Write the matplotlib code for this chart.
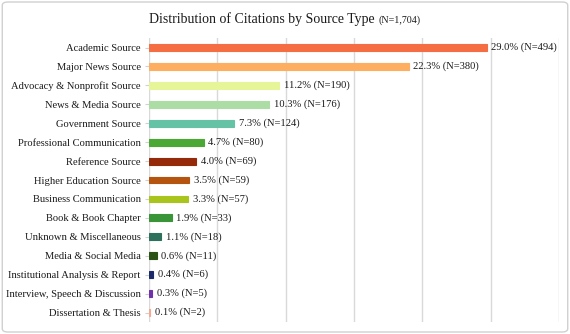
import matplotlib.pyplot as plt
from matplotlib.patches import FancyBboxPatch

categories = ["Academic Source", "Major News Source", "Advocacy & Nonprofit Source",
              "News & Media Source", "Government Source", "Professional Communication",
              "Reference Source", "Higher Education Source", "Business Communication",
              "Book & Book Chapter", "Unknown & Miscellaneous", "Media & Social Media",
              "Institutional Analysis & Report", "Interview, Speech & Discussion",
              "Dissertation & Thesis"]
counts = [494, 380, 190, 176, 124, 80, 69, 59, 57, 33, 18, 11, 6, 5, 2]
percents = [29.0, 22.3, 11.2, 10.3, 7.3, 4.7, 4.0, 3.5, 3.3, 1.9, 1.1, 0.6, 0.4, 0.3, 0.1]
colors = ["#F46D43", "#FDAE61", "#E6F598", "#ABDDA4", "#66C2A5", "#4CA835",
          "#952A0B", "#B5540F", "#A9C41C", "#3A9438", "#2D705C", "#2A5216",
          "#1A2A6B", "#7032A8", "#F8A890"]
total = 1704

plt.rcParams['font.family'] = ['Liberation Serif', 'DejaVu Serif']

fig = plt.figure(figsize=(5.7, 3.34), dpi=100)
ax = fig.add_axes([0.2614, 0.036, 0.7193, 0.850])

y = list(range(len(categories)))
ax.barh(y, counts, height=0.36, color=colors, edgecolor=colors, linewidth=0.8, zorder=3)
for yi, c, p in zip(y, counts, percents):
    ax.text(c + 7, yi, f"{p:.1f}% (N={c})", va='center', ha='left', fontsize=7.6,
            color='#1a1a1a', zorder=4)

ax.set_xlim(0, 600)
ax.set_ylim(len(categories) - 0.5, -0.5)
ax.set_yticks(y)
ax.set_yticklabels(categories, fontsize=7.6, color='#1a1a1a')
ax.set_xticks(range(0, 601, 100))
ax.tick_params(axis='x', length=0, labelbottom=False)
ax.tick_params(axis='y', length=3, color='#d0d0d0', pad=3)
ax.grid(axis='x', color='#d9d9d9', linewidth=1.0, zorder=0)
for s in ax.spines.values():
    s.set_visible(False)

t1 = fig.text(0.261, 0.944, "Distribution of Citations by Source Type", ha='left',
              va='center', fontsize=10, color='#1a1a1a')
fig.canvas.draw()
bb = t1.get_window_extent()
x_end = bb.x1 / fig.bbox.width
fig.text(x_end + 0.007, 0.941, f"(N={total:,})", ha='left', va='center', fontsize=7.2,
         color='#1a1a1a')

border = FancyBboxPatch((0.004, 0.006), 0.992, 0.988, boxstyle="round,pad=0,rounding_size=0.01",
                        transform=fig.transFigure, fill=False, edgecolor='#d0d0d0',
                        linewidth=1.0)
fig.patches.append(border)

fig.savefig("out.png", dpi=100)
